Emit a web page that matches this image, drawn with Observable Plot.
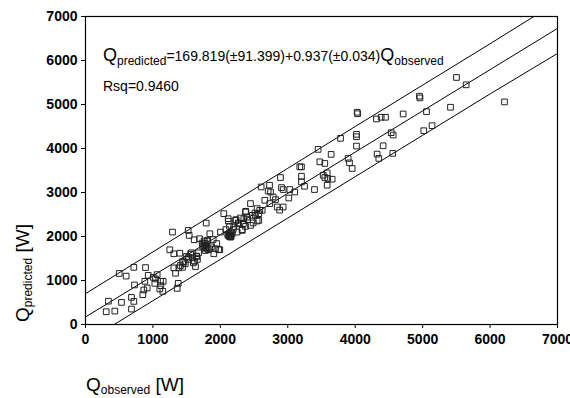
<!DOCTYPE html>
<html><head><meta charset="utf-8">
<script src="https://cdn.jsdelivr.net/npm/d3@7"></script>
<script src="https://cdn.jsdelivr.net/npm/@observablehq/plot@0.6"></script>
<style>
body{margin:0;background:#fff;}
#chart svg{font-family:"Liberation Sans",Arial,sans-serif;background:#fff;}
</style>
</head><body><div id="chart"></div>
<script>
// Observed vs predicted heat (W)
const observed = [307,340,435,534,500,603,682,682,717,717,727,890,850,865,915,880,930,1004,1038,1063,1112,1117,1152,1102,1147,1028,
1290,1250,1310,1399,1310,1335,1384,1360,1375,1409,1439,1458,1498,1523,1538,1557,1587,1616,1631,1646,1612,1691,1790,1730,1755,1780,1804,1844,1928,1903,1992,2002,2051,2116,2126,
1532,1569,1650,1677,1737,1758,1785,1812,1839,1866,1893,1947,1974,1760,1775,1790,1805,1820,1760,1480,1440,1520,1600,1660,
2082,2109,2125,2136,2152,2140,2150,2130,2160,2119,2190,2233,2265,2297,2324,2341,2378,2405,2486,2513,2880,
2605,2729,2709,2744,2907,2932,3030,3104,3015,2783,2818,2659,2733,2843,2932,2447,2546,2585,2620,2570,2521,2570,2546,2373,2398,2472,2348,2225,2274,2373,2447,2200,2175,2249,2323,2151,
2892,3178,3203,3203,3203,3248,3396,3450,3643,3475,3549,3525,3549,3584,3593,3658,3584,3782,3895,3915,3955,4019,4019,4019,4029,4035,
4316,4385,4449,4325,4350,4414,4534,4563,4557,4711,4953,4960,5017,5057,5140,5413,5502,5645,6214];
const predicted = [290,530,305,502,1160,1100,351,616,525,1300,899,1294,678,785,830,982,1118,1073,1036,1134,982,883,982,808,753,936,
2100,1698,1607,1620,1287,1164,1287,821,936,1340,1300,1415,1545,2138,2024,1597,1515,1438,1317,1545,1926,1949,2305,1849,1796,1682,1894,2063,1721,1607,1698,2100,2519,2405,2024,
1531,1629,1554,1629,1780,1833,1742,1916,1720,1765,1931,1840,1705,1900,1850,1780,1740,1700,1740,1380,1430,1480,1400,1480,
2157,2044,2006,2233,2082,2000,2020,2060,2000,2348,2157,2384,2308,2421,2157,2293,2572,2384,2308,2534,2600,
3126,3165,3035,3012,3112,3067,3067,3012,2875,2898,2839,2823,2748,2670,2670,2748,2633,2595,2595,2519,2481,2367,2351,2556,2441,2481,2405,2367,2291,2230,2253,2214,2063,2100,2138,1985,
3340,3583,3583,3370,3240,3142,3067,3980,3866,3697,3660,3393,3341,3446,3318,3302,3165,4231,3774,3674,3546,4322,4268,4055,4824,4790,
4671,4710,4710,3873,3774,4062,4359,4306,3889,4785,5189,5150,4404,4838,4518,4938,5614,5447,5059];

// Fitted line and the two band lines
const fitX = [0,1000,2000,3000,4000,5000,6000,7000];
const fitY = [170,1107,2044,2981,3918,4855,5792,6729];
const upperX = [0,1000,2000,3000,4000,5000,6000,6650];
const upperY = [700,1650,2600,3550,4500,5440,6380,7000];
const lowerX = [425,1000,2000,3000,4000,5000,6000,7000];
const lowerY = [0,540,1480,2420,3360,4300,5240,6160];
const tickValues = [0,1000,2000,3000,4000,5000,6000,7000];

const points = observed.map((x,i)=>({x, y: predicted[i]}));
const fit = fitX.map((x,i)=>({x, y: fitY[i]}));
const upper = upperX.map((x,i)=>({x, y: upperY[i]}));
const lower = lowerX.map((x,i)=>({x, y: lowerY[i]}));

const plot = Plot.plot({
  width: 570, height: 398,
  marginLeft: 85, marginRight: 13, marginTop: 16, marginBottom: 74,
  style: {fontFamily: '"Liberation Sans", Arial, sans-serif', color: "#000", background: "#fff"},
  x: {domain: [0, 7000], label: null},
  y: {domain: [0, 7000], label: null},
  marks: [
    Plot.line(upper, {x: "x", y: "y", stroke: "#000", strokeWidth: 1}),
    Plot.line(fit, {x: "x", y: "y", stroke: "#000", strokeWidth: 1}),
    Plot.line(lower, {x: "x", y: "y", stroke: "#000", strokeWidth: 1}),
    Plot.dot(points, {x: "x", y: "y", symbol: "square", r: 3.2, stroke: "#222", fill: "none", strokeWidth: 1}),
    Plot.frame({stroke: "#000", strokeWidth: 1.2}),
    Plot.axisX({ticks: tickValues, tickFormat: d => String(d), tickSize: 4, tickPadding: 6, fontSize: 14, fontWeight: "bold", label: null}),
    Plot.axisY({ticks: tickValues, tickFormat: d => String(d), tickSize: 4, tickPadding: 4, fontSize: 14, fontWeight: "bold", label: null})
  ]
});
document.getElementById("chart").appendChild(plot);

const svg = d3.select(plot);
// Equation annotation
const eq = svg.append("text").attr("x", 103).attr("y", 61).attr("text-anchor", "start").attr("fill", "#000").attr("font-size", 14);
eq.append("tspan").attr("font-size", 18).text("Q");
eq.append("tspan").attr("font-size", 12).attr("dy", 4).text("predicted");
eq.append("tspan").attr("dy", -4).text("=169.819(±91.399)+0.937(±0.034)");
eq.append("tspan").attr("font-size", 18).text("Q");
eq.append("tspan").attr("font-size", 12).attr("dy", 4).text("observed");
svg.append("text").attr("x", 103).attr("y", 91).attr("text-anchor", "start").attr("fill", "#000").attr("font-size", 14).text("Rsq=0.9460");

// Axis titles
const xt = svg.append("text").attr("x", 86).attr("y", 391).attr("text-anchor", "start").attr("fill", "#000").attr("font-size", 19);
xt.append("tspan").text("Q");
xt.append("tspan").attr("font-size", 12).attr("dy", 3).text("observed");
xt.append("tspan").attr("dy", -3).text(" [W]");

const yt = svg.append("text").attr("transform", "translate(29,322) rotate(-90)").attr("text-anchor", "start").attr("fill", "#000").attr("font-size", 19);
yt.append("tspan").text("Q");
yt.append("tspan").attr("font-size", 12).attr("dy", 3).text("predicted");
yt.append("tspan").attr("dy", -3).text(" [W]");
</script>
</body></html>
